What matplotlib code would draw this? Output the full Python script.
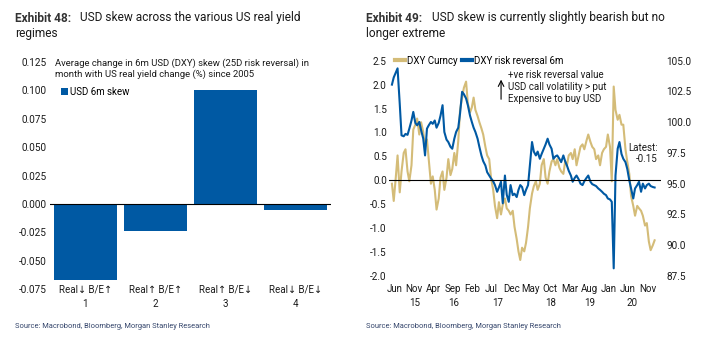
import matplotlib
matplotlib.use("Agg")
import matplotlib.pyplot as plt
import matplotlib.dates as mdates
import matplotlib.ticker as mticker
import pandas as pd

plt.rcParams["font.family"] = ["Roboto", "DejaVu Sans"]
plt.rcParams["axes.unicode_minus"] = False

# %%
# Exhibit 48: avg change in 6m USD skew by real yield / breakeven regime
regimes = ["Real↓ B/E↑", "Real↑ B/E↑", "Real↑ B/E↓", "Real↓ B/E↓"]
regime_ids = ["1", "2", "3", "4"]
usd_skew = [-0.067, -0.024, 0.100, -0.005]
skew_ticks = [-0.075, -0.05, -0.025, 0.0, 0.025, 0.05, 0.075, 0.1, 0.125]

# %%
# Exhibit 49: semi-monthly readings, Jun 2015 - Jan 2021
series_start = "2015-06-01"
rr_6m = [
    2.00, 2.15, 2.25, 2.34, 1.60, 0.94, 0.92, 0.97, 0.95, 1.08,
    1.25, 1.43, 1.20, 1.15, 1.22, 1.05, 0.87, 0.52, 1.08, 1.15,
    1.22, 1.18, 1.25, 1.10, 1.20, 1.35, 1.57, 1.01, 0.85, 0.80,
    0.70, 0.66, 0.87, 1.01, 1.10, 1.40, 1.85, 1.80, 1.71, 1.57,
    1.35, 1.22, 1.10, 1.01, 0.87, 0.70, 0.52, 0.40, 0.31, 0.17,
    0.10, 0.04, -0.02, -0.10, -0.24, -0.15, -0.03, -0.48, 0.10, -0.30,
    -0.45, -0.10, -0.31, -0.28, -0.35, -0.20, -0.10, -0.14, -0.31, -0.20,
    -0.10, 0.30, 0.80, 0.60, 0.52, 0.60, 0.45, 0.55, 0.66, 0.75,
    0.87, 0.75, 0.66, 0.45, 0.50, 0.52, 0.45, 0.38, 0.52, 0.40,
    0.31, 0.20, 0.10, -0.03, 0.05, 0.10, 0.02, -0.07, -0.10, -0.02,
    0.05, 0.10, -0.03, -0.08, -0.10, -0.12, -0.17, -0.20, -0.24, -0.28,
    -0.31, -0.38, -0.40, -0.45, -1.84, 0.10, 0.66, 0.80, 0.55, 0.45,
    0.38, 0.24, 0.00, -0.17, -0.38, -0.17, -0.10, -0.03, -0.24, -0.07,
    -0.17, -0.10, -0.07, -0.12, -0.14, -0.15,
]
dxy = [
    95.0, 93.6, 95.5, 97.3, 94.3, 96.0, 97.5, 97.8, 96.0, 95.2,
    96.5, 99.4, 99.8, 100.3, 99.0, 100.0, 99.2, 98.0, 98.6, 97.0,
    95.0, 95.6, 94.5, 92.9, 93.8, 95.5, 96.0, 94.5, 95.5, 97.0,
    95.7, 96.2, 97.5, 96.5, 98.5, 101.0, 102.0, 102.8, 103.3, 101.5,
    100.8, 101.2, 102.0, 101.0, 100.5, 100.0, 99.5, 99.0, 98.0, 97.3,
    97.0, 95.5, 94.5, 93.2, 92.2, 93.5, 92.5, 93.3, 93.8, 93.0,
    92.8, 92.5, 92.8, 91.5, 90.5, 89.5, 88.8, 89.8, 89.5, 90.2,
    91.5, 93.0, 94.2, 94.8, 95.2, 94.5, 95.0, 96.5, 97.0, 95.5,
    95.0, 96.0, 96.8, 97.0, 96.5, 97.0, 96.3, 96.0, 95.8, 96.8,
    96.5, 97.3, 97.5, 97.0, 97.8, 96.5, 97.3, 98.0, 98.2, 97.8,
    98.5, 99.0, 98.4, 98.0, 97.8, 97.0, 97.3, 96.5, 97.5, 97.8,
    98.0, 99.0, 98.0, 95.2, 102.9, 101.0, 100.2, 100.6, 99.8, 99.8,
    97.8, 96.8, 95.8, 94.0, 93.2, 92.4, 93.2, 93.0, 92.8, 92.4,
    91.6, 91.8, 90.3, 89.6, 90.0, 90.4,
]
month_ticks = ["2015-06-20", "2015-11-20", "2016-04-20", "2016-09-20", "2017-02-20",
               "2017-07-20", "2017-12-20", "2018-05-20", "2018-10-20", "2019-03-20",
               "2019-08-20", "2020-01-20", "2020-06-20", "2020-11-20"]
# year labels sit a few days off the month ticks so the minor ticks are kept
year_ticks = ["2015-11-25", "2016-09-25", "2017-09-05", "2018-10-25", "2019-08-25", "2020-07-20"]
year_labels = ["15", "16", "17", "18", "19", "20"]
rr_ticks = [-2.0, -1.5, -1.0, -0.5, 0.0, 0.5, 1.0, 1.5, 2.0, 2.5]
dxy_ticks = [87.5, 90.0, 92.5, 95.0, 97.5, 100.0, 102.5, 105.0]

dates = pd.date_range(series_start, periods=len(rr_6m), freq="SMS")

BLUE = "#0059A3"
GOLD = "#D4BC78"
SRC = "#34456b"
TXT = "#1a1a1a"
src_text = "Source: Macrobond, Bloomberg, Morgan Stanley Research"

fig = plt.figure(figsize=(7.12, 3.46), dpi=100)

# %%
# Titles
fig.text(15 / 712, 1 - 18 / 346, "Exhibit 48:", fontsize=8.6, fontweight="bold", color="#333333", va="center")
fig.text(80 / 712, 1 - 18 / 346, "USD skew across the various US real yield", fontsize=8.6, color=TXT, va="center")
fig.text(15 / 712, 1 - 34 / 346, "regimes", fontsize=8.6, color=TXT, va="center")
fig.text(366 / 712, 1 - 18 / 346, "Exhibit 49:", fontsize=8.6, fontweight="bold", color="#333333", va="center")
fig.text(432 / 712, 1 - 18 / 346, "USD skew is currently slightly bearish but no", fontsize=8.6, color=TXT, va="center")
fig.text(366 / 712, 1 - 34 / 346, "longer extreme", fontsize=8.6, color=TXT, va="center")
fig.text(15 / 712, 1 - 327 / 346, src_text, fontsize=5.4, color=SRC, va="center")
fig.text(366 / 712, 1 - 327 / 346, src_text, fontsize=5.4, color=SRC, va="center")

# %%
# Left chart: bars
ax1 = fig.add_axes([50 / 712, 1 - 289.3 / 346, 281 / 712, 227.6 / 346])
xpos = range(len(usd_skew))
ax1.bar(xpos, usd_skew, width=0.9, color=BLUE, label="USD 6m skew")
ax1.axhline(0, color="black", lw=0.8)
ax1.set_xlim(-0.5, 3.5)
ax1.set_ylim(-0.075, 0.125)
ax1.set_yticks(skew_ticks)
ax1.yaxis.set_major_formatter(mticker.FormatStrFormatter("%.3f"))
ax1.set_xticks(list(xpos))
ax1.set_xticklabels([f"{r}\n{i}" for r, i in zip(regimes, regime_ids)], linespacing=1.55)
ax1.tick_params(axis="x", length=0, pad=-3.5, labelsize=7, labelcolor=TXT)
ax1.tick_params(axis="y", length=0, pad=2.5, labelsize=7.2, labelcolor=TXT)
for s in ax1.spines.values():
    s.set_visible(False)
ax1.text(0.018, 0.968, "Average change in 6m USD (DXY) skew (25D risk reversal) in\n"
         "month with US real yield change (%) since 2005",
         transform=ax1.transAxes, fontsize=6.8, color=TXT, va="center", linespacing=1.25)
ax1.legend(loc="center left", bbox_to_anchor=(0.022, 0.868), frameon=False, fontsize=7,
           borderpad=0, handlelength=0.7, handleheight=0.7, handletextpad=0.25)

# %%
# Right chart: DXY vs risk reversal
ax = fig.add_axes([389 / 712, 1 - 276 / 346, 272 / 712, 215.3 / 346])
ax2 = ax.twinx()
l_dxy, = ax2.plot(dates, dxy, color=GOLD, lw=1.5, label="DXY Curncy")
l_rr, = ax.plot(dates, rr_6m, color=BLUE, lw=1.5, label="DXY risk reversal 6m")
ax.set_zorder(ax2.get_zorder() + 1)
ax.patch.set_visible(False)
ax.axhline(0, color="black", lw=0.8)

ax.set_ylim(-2.0, 2.5)
ax2.set_ylim(87.5, 105.0)
ax.set_yticks(rr_ticks)
ax2.set_yticks(dxy_ticks)
ax.yaxis.set_major_formatter(mticker.FormatStrFormatter("%.1f"))
ax2.yaxis.set_major_formatter(mticker.FormatStrFormatter("%.1f"))
ax.set_xlim(pd.Timestamp("2015-05-09"), pd.Timestamp("2021-03-06"))

ax.xaxis.set_major_locator(mticker.FixedLocator(mdates.date2num(pd.to_datetime(month_ticks))))
ax.xaxis.set_major_formatter(mdates.DateFormatter("%b"))
ax.xaxis.set_minor_locator(mticker.FixedLocator(mdates.date2num(pd.to_datetime(year_ticks))))
ax.xaxis.set_minor_formatter(mticker.FixedFormatter(year_labels))
ax.tick_params(axis="x", which="major", length=0, pad=6, labelsize=7, labelcolor=TXT)
ax.tick_params(axis="x", which="minor", length=0, pad=16, labelsize=7, labelcolor=TXT)
ax.tick_params(axis="y", length=0, pad=1.5, labelsize=7.2, labelcolor=TXT)
ax2.tick_params(axis="y", length=0, pad=4, labelsize=7.2, labelcolor=TXT)
for a in (ax, ax2):
    for s in a.spines.values():
        s.set_visible(False)

ax.legend(handles=[l_dxy, l_rr], loc="center left", bbox_to_anchor=(0.005, 1.0), ncol=2,
          frameon=False, fontsize=7, borderpad=0, handlelength=1.0, handletextpad=0.25,
          columnspacing=0.4)
leg = ax.get_legend()
for h in leg.legend_handles:
    h.set_linewidth(3)

ax.annotate("", xy=(0.412, 0.925), xytext=(0.412, 0.808), xycoords="axes fraction",
            arrowprops=dict(arrowstyle="->", lw=0.8, color="black"))
ax.text(0.437, 0.878, "+ve risk reversal value\nUSD call volatility > put\nExpensive to buy USD",
        transform=ax.transAxes, fontsize=7, color=TXT, va="center", linespacing=1.2)
ax.text(0.989, 0.569, "Latest:\n-0.15", transform=ax.transAxes, fontsize=7, color=TXT,
        va="center", ha="right", linespacing=1.2)

fig.savefig("out.png", dpi=100)
